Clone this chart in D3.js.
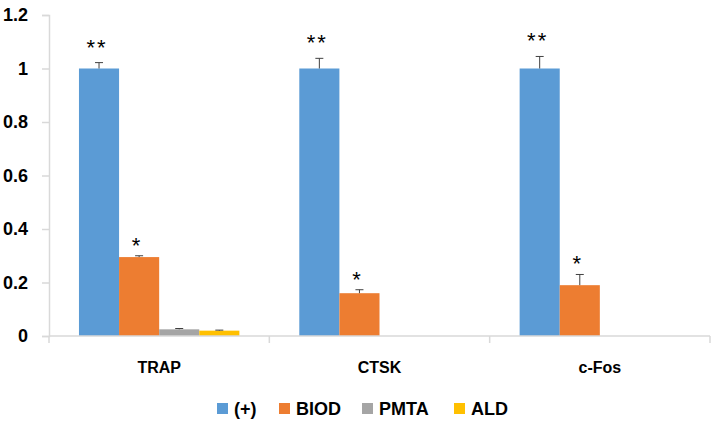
<!DOCTYPE html>
<html>
<head>
<meta charset="utf-8">
<script src="https://cdn.jsdelivr.net/npm/d3@7"></script>
<style>
  body { margin: 0; background: #fff; }
  text { font-family: "Liberation Sans", Arial, sans-serif; font-weight: bold; fill: #000; }
</style>
</head>
<body>
<script>
(function(){

    var categories = ["TRAP", "CTSK", "c-Fos"];
    var seriesNames = ["(+)", "BIOD", "PMTA", "ALD"];
    var seriesColors = ["#5B9BD5", "#ED7D31", "#A5A5A5", "#FFC000"];

    // values per category, in series order
    var plusValues = [1.0, 1.0, 1.0];
    var biodValues = [0.295, 0.16, 0.19];
    var pmtaValues = [0.025, 0, 0];
    var aldValues = [0.02, 0, 0];

    var plusErrors = [0.022, 0.038, 0.045];
    var biodErrors = [0.005, 0.013, 0.04];
    var pmtaErrors = [0.003, 0, 0];
    var aldErrors = [0.002, 0, 0];

    var plusMarks = ["**", "**", "**"];
    var biodMarks = ["*", "*", "*"];

    var yTicks = [0, 0.2, 0.4, 0.6, 0.8, 1, 1.2];

    var width = 713,
        height = 421;

    var svg = d3.select("body")
        .append("svg")
        .attr("width", width)
        .attr("height", height);

    var x0 = d3.scaleBand()
        .domain(categories)
        .range([49, 710]);

    var x1 = d3.scaleBand()
        .domain(seriesNames)
        .range([x0.bandwidth() * 0.136, x0.bandwidth() * 0.864]);

    var y = d3.scaleLinear()
        .domain([0, 1.2])
        .range([336, 15]);

    var allValues = [plusValues, biodValues, pmtaValues, aldValues];
    var allErrors = [plusErrors, biodErrors, pmtaErrors, aldErrors];

    var rows = [];
    categories.forEach((c, ci) => {
        seriesNames.forEach((s, si) => {
            rows.push({cat: c, series: s, si: si, value: allValues[si][ci], err: allErrors[si][ci]});
        });
    });

    // y axis
    var yAxis = svg.append("g")
        .attr("transform", "translate(49,0)")
        .call(d3.axisLeft(y).tickValues(yTicks).tickSize(7).tickPadding(14)
            .tickFormat(d => d3.format("")(d)));
    yAxis.select(".domain").attr("stroke", "#D9D9D9").attr("stroke-width", 1.5);
    yAxis.selectAll(".tick line").attr("stroke", "#D9D9D9").attr("stroke-width", 1.5);
    yAxis.selectAll("text")
        .style("font-size", "18px")
        .style("font-family", "'Liberation Sans', Arial, sans-serif")
        .style("font-weight", "bold")
        .attr("fill", "#000");

    // bars
    svg.selectAll(".bar")
        .data(rows.filter(d => d.value > 0))
        .enter()
        .append("rect")
        .attr("class", "bar")
        .attr("x", d => x0(d.cat) + x1(d.series))
        .attr("width", x1.bandwidth())
        .attr("y", d => y(d.value))
        .attr("height", d => y(0) - y(d.value))
        .style("fill", d => seriesColors[d.si]);

    // error bars
    var errRows = rows.filter(d => d.value > 0 && d.err > 0);
    var eb = svg.selectAll(".err")
        .data(errRows)
        .enter()
        .append("g")
        .attr("class", "err")
        .attr("stroke", "#404040")
        .attr("stroke-width", 1);
    eb.append("line")
        .attr("x1", d => x0(d.cat) + x1(d.series) + x1.bandwidth() / 2)
        .attr("x2", d => x0(d.cat) + x1(d.series) + x1.bandwidth() / 2)
        .attr("y1", d => y(d.value))
        .attr("y2", d => y(d.value + d.err));
    eb.append("line")
        .attr("x1", d => x0(d.cat) + x1(d.series) + x1.bandwidth() / 2 - 4)
        .attr("x2", d => x0(d.cat) + x1(d.series) + x1.bandwidth() / 2 + 4)
        .attr("y1", d => y(d.value + d.err))
        .attr("y2", d => y(d.value + d.err));

    // significance marks
    var markRows = [];
    categories.forEach((c, ci) => {
        markRows.push({cat: c, series: "(+)", mark: plusMarks[ci], top: plusValues[ci] + plusErrors[ci], off: 8});
        markRows.push({cat: c, series: "BIOD", mark: biodMarks[ci], top: biodValues[ci] + biodErrors[ci], off: 3});
    });
    svg.selectAll(".mark")
        .data(markRows)
        .enter()
        .append("text")
        .attr("class", "mark")
        .attr("x", d => x0(d.cat) + x1(d.series) + x1.bandwidth() / 2 - 2)
        .attr("y", d => y(d.top) - d.off)
        .attr("text-anchor", "middle")
        .style("font-size", "22px")
        .style("font-weight", "normal")
        .style("letter-spacing", "2px")
        .text(d => d.mark);

    // x axis
    var xAxis = svg.append("g")
        .attr("transform", "translate(0,336)");
    xAxis.append("line")
        .attr("x1", 49).attr("x2", 710)
        .attr("stroke", "#D9D9D9").attr("stroke-width", 1.5);
    xAxis.selectAll(".sep")
        .data(categories)
        .enter()
        .append("line")
        .attr("x1", d => x0(d) + x0.bandwidth())
        .attr("x2", d => x0(d) + x0.bandwidth())
        .attr("y1", 0).attr("y2", 7)
        .attr("stroke", "#D9D9D9").attr("stroke-width", 1.5);
    xAxis.append("line")
        .attr("x1", 49).attr("x2", 49).attr("y1", 0).attr("y2", 7)
        .attr("stroke", "#D9D9D9").attr("stroke-width", 1.5);
    xAxis.selectAll(".catLabel")
        .data(categories)
        .enter()
        .append("text")
        .attr("x", d => x0(d) + x0.bandwidth() / 2)
        .attr("y", 37)
        .attr("text-anchor", "middle")
        .style("font-size", "16px")
        .text(d => d);

    // legend
    var legendX = [217, 279, 362, 454];
    var legend = svg.selectAll(".legend")
        .data(seriesNames)
        .enter()
        .append("g")
        .attr("class", "legend")
        .attr("transform", (d, i) => "translate(" + legendX[i] + ",403)");
    legend.append("rect")
        .attr("width", 11).attr("height", 11)
        .style("fill", (d, i) => seriesColors[i]);
    legend.append("text")
        .attr("x", 17)
        .attr("y", 12)
        .style("font-size", "18px")
        .text(d => d);

})();
</script>
</body>
</html>
